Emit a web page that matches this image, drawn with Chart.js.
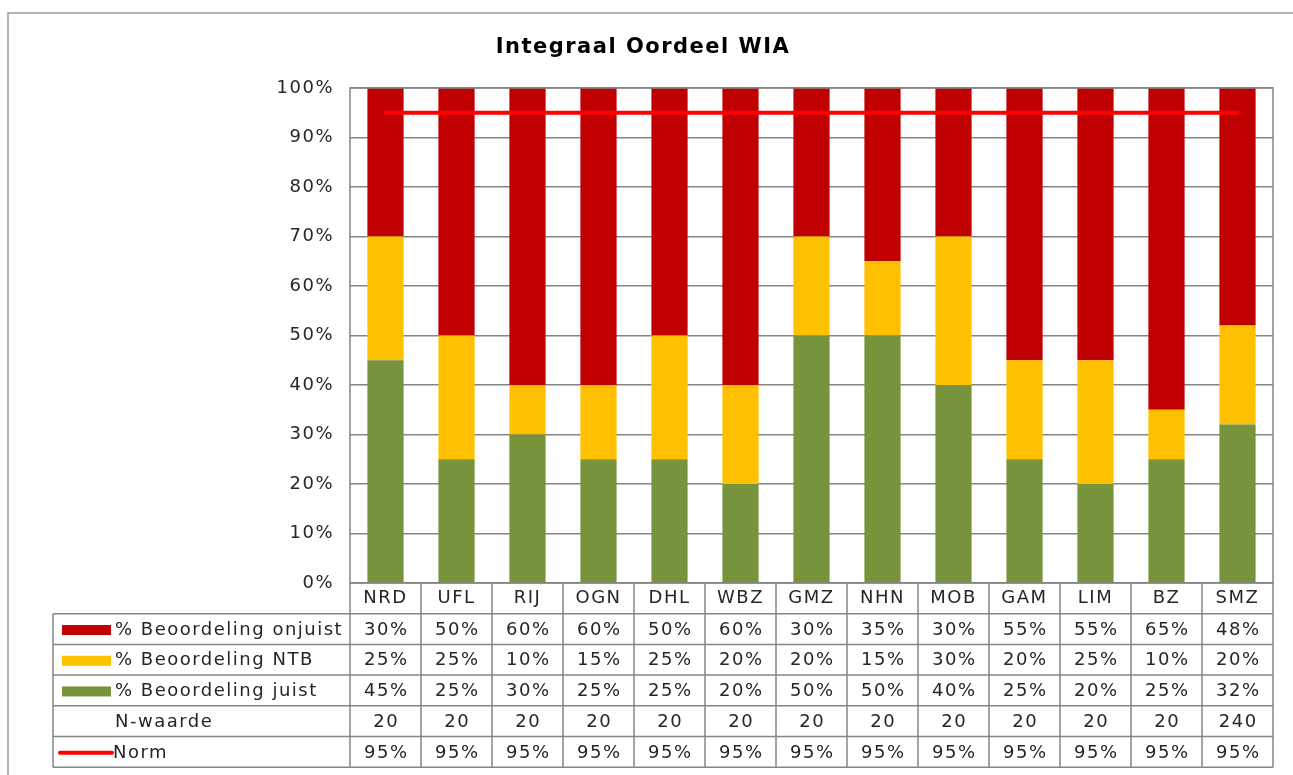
<!DOCTYPE html>
<html>
<head>
<meta charset="utf-8">
<script src="https://cdn.jsdelivr.net/npm/chart.js@4/dist/chart.umd.min.js"></script>
<style>
  html, body { margin: 0; padding: 0; background: #ffffff; }
  #wrap { width: 1293px; height: 775px; position: relative; }
</style>
</head>
<body>
<div id="wrap"><canvas id="c" width="1293" height="775"></canvas></div>
<script>
// ---- Data ----
const categories = ['NRD','UFL','RIJ','OGN','DHL','WBZ','GMZ','NHN','MOB','GAM','LIM','BZ','SMZ'];
const onjuist = [30,50,60,60,50,60,30,35,30,55,55,65,48];
const ntb     = [25,25,10,15,25,20,20,15,30,20,25,10,20];
const juist   = [45,25,30,25,25,20,50,50,40,25,20,25,32];
const nWaarde = [20,20,20,20,20,20,20,20,20,20,20,20,240];
const norm    = [95,95,95,95,95,95,95,95,95,95,95,95,95];
const seriesNames = ['% Beoordeling onjuist','% Beoordeling NTB','% Beoordeling juist','N-waarde','Norm'];
const titleText = 'Integraal Oordeel WIA';

const COL_RED = '#C00000', COL_YEL = '#FFC000', COL_GRN = '#77933C', COL_NORM = '#FF0000';
const GRID = '#858585', TXT = '#262626';
const FONT = 'DejaVu Sans';
const FS = 18;

const pct = v => v + '%';

const tableRows = [
  { label: seriesNames[0], values: onjuist.map(pct), swatch: 'bar', color: COL_RED },
  { label: seriesNames[1], values: ntb.map(pct), swatch: 'bar', color: COL_YEL },
  { label: seriesNames[2], values: juist.map(pct), swatch: 'bar', color: COL_GRN },
  { label: seriesNames[3], values: nWaarde.map(String), swatch: null },
  { label: seriesNames[4], values: norm.map(pct), swatch: 'line', color: COL_NORM }
];

const spacingPlugin = {
  id: 'spacing',
  beforeDraw(chart) { chart.ctx.letterSpacing = '1.5px'; }
};

const tablePlugin = {
  id: 'dataTable',
  afterDraw(chart) {
    const ctx = chart.ctx;
    const ca = chart.chartArea;
    const xs = chart.scales.x;
    const n = categories.length;
    const colW = (ca.right - ca.left) / n;
    const rowH = 30.7;
    const catTop = ca.bottom;
    const tblTop = catTop + rowH;
    const tblLeft = 53;
    const tblBottom = tblTop + rowH * tableRows.length;
    ctx.save();
    // outer frame (top + left)
    ctx.strokeStyle = '#9a9a9a';
    ctx.lineWidth = 1.5;
    ctx.beginPath();
    ctx.moveTo(8, 780); ctx.lineTo(8, 13); ctx.lineTo(1300, 13);
    ctx.stroke();
    // plot frame
    ctx.strokeStyle = GRID;
    ctx.lineWidth = 1.5;
    ctx.strokeRect(ca.left, ca.top, ca.right - ca.left, ca.bottom - ca.top);
    // table lines
    ctx.beginPath();
    for (let r = 0; r <= tableRows.length; r++) {
      const y = tblTop + r * rowH;
      ctx.moveTo(tblLeft, y); ctx.lineTo(ca.right, y);
    }
    ctx.moveTo(tblLeft, tblTop); ctx.lineTo(tblLeft, tblBottom);
    for (let k = 0; k <= n; k++) {
      const x = ca.left + k * colW;
      ctx.moveTo(x, catTop); ctx.lineTo(x, tblBottom);
    }
    ctx.stroke();
    // rows
    ctx.font = FS + 'px "' + FONT + '"';
    ctx.letterSpacing = '1.5px';
    ctx.fillStyle = TXT;
    ctx.textBaseline = 'middle';
    tableRows.forEach((row, r) => {
      const yc = tblTop + r * rowH + rowH / 2 + 1;
      if (row.swatch === 'bar') {
        ctx.fillStyle = row.color;
        ctx.fillRect(62, yc - 5, 49, 10);
      } else if (row.swatch === 'line') {
        ctx.strokeStyle = row.color;
        ctx.lineWidth = 4;
        ctx.lineCap = 'round';
        ctx.beginPath(); ctx.moveTo(60, yc); ctx.lineTo(112, yc); ctx.stroke();
      }
      ctx.fillStyle = TXT;
      ctx.textAlign = 'left';
      ctx.fillText(row.label, row.swatch === 'line' ? 113 : 115, yc);
      ctx.textAlign = 'center';
      row.values.forEach((v, i) => {
        ctx.fillText(v, xs.getPixelForValue(i) + 0.75, yc);
      });
    });
    ctx.restore();
  }
};

new Chart(document.getElementById('c'), {
  type: 'bar',
  data: {
    labels: categories,
    datasets: [
      { type: 'line', label: seriesNames[4], data: norm, borderColor: COL_NORM, backgroundColor: COL_NORM,
        borderWidth: 4, pointRadius: 0, order: 0, stack: 'norm', borderCapStyle: 'round' },
      { label: seriesNames[2], data: juist, backgroundColor: COL_GRN, order: 1, stack: 'bars' },
      { label: seriesNames[1], data: ntb, backgroundColor: COL_YEL, order: 1, stack: 'bars' },
      { label: seriesNames[0], data: onjuist, backgroundColor: COL_RED, order: 1, stack: 'bars' }
    ]
  },
  options: {
    responsive: false,
    animation: false,
    devicePixelRatio: 1,
    datasets: { bar: { barPercentage: 0.51, categoryPercentage: 1.0 } },
    layout: { padding: { left: 13, right: 20, top: 0, bottom: 0 } },
    plugins: {
      legend: { display: false },
      tooltip: { enabled: false },
      title: {
        display: true, text: titleText, color: '#000000',
        font: { family: FONT, size: 21, weight: 'bold' },
        padding: { top: 35, bottom: 27.8 }
      }
    },
    scales: {
      x: {
        stacked: true,
        grid: { display: false, drawTicks: false },
        border: { display: false },
        ticks: { color: TXT, font: { family: FONT, size: FS }, padding: 5, maxRotation: 0, autoSkip: false },
        afterFit(scale) { scale.height = 192; }
      },
      y: {
        stacked: true, min: 0, max: 100,
        grid: { color: GRID, lineWidth: 1.5, drawTicks: false },
        border: { display: false },
        ticks: { stepSize: 10, color: TXT, font: { family: FONT, size: FS }, padding: 16, callback: v => v + '%' },
        afterFit(scale) { scale.width = 337; }
      }
    }
  },
  plugins: [spacingPlugin, tablePlugin]
});
</script>
</body>
</html>
